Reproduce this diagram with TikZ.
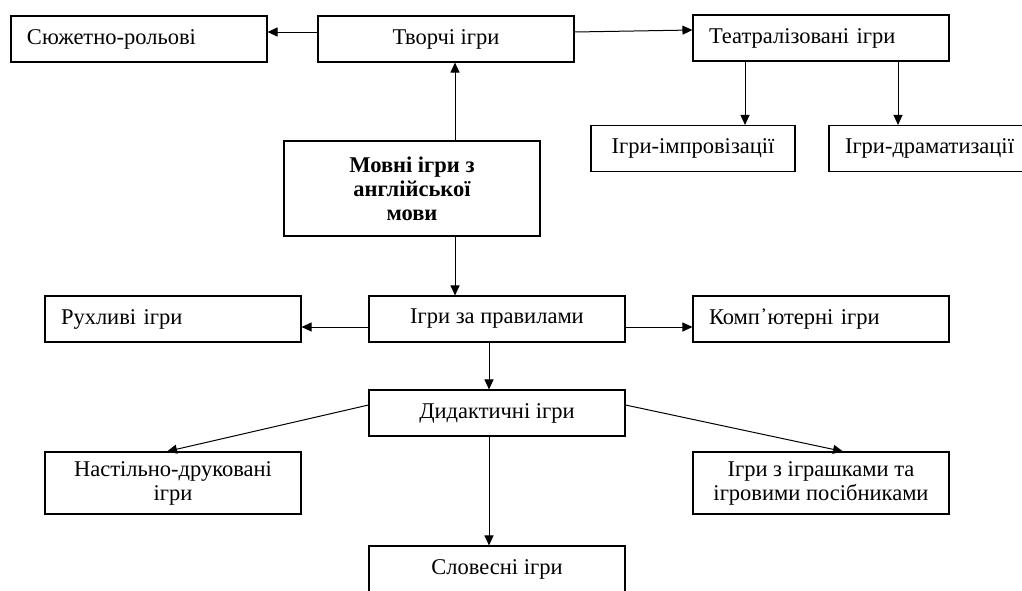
\documentclass[tikz,border=0pt]{standalone}
\usepackage{fontspec}
\setmainfont{Liberation Serif}
\usetikzlibrary{arrows.meta}

\tikzstyle{box} = [draw, line width=1.1pt, minimum height=46pt, inner sep=0pt, align=center,
                   font=\fontsize{22.5}{24}\selectfont]
\tikzstyle{lbox} = [box, align=left, inner xsep=16pt]
\tikzstyle{arr} = [line width=1pt, -{Triangle[length=10pt,width=9pt]}]

\begin{document}
\begin{tikzpicture}[x=1pt, y=-1pt]
    \useasboundingbox (0,0) rectangle (1022,590);
    % upper branch
    \node[lbox, minimum width=256pt, text width=224pt] (sr) at (139,39) {Сюжетно-рольові};
    \node[box, minimum width=256pt] (tv) at (446,39) {Творчі ігри};
    \node[lbox, minimum width=256pt, text width=224pt] (te) at (821,38) {Театралізовані ігри};
    \node[box, minimum width=204pt] (im) at (693,148.5) {Ігри-імпровізації};
    \node[lbox, minimum width=211pt, text width=179pt] (dr) at (934.5,148.5) {Ігри-драматизації};
    % root
    \node[box, minimum width=256pt, minimum height=95pt, font=\fontsize{22.5}{24}\selectfont\bfseries]
      (mv) at (412,188.5) {Мовні ігри з\\англійської\\мови};
    % lower branch
    \node[box, minimum width=256pt] (pr) at (497,319) {Ігри за правилами};
    \node[lbox, minimum width=256pt, text width=224pt] (ru) at (173,319) {Рухливі ігри};
    \node[lbox, minimum width=256pt, text width=224pt] (ko) at (821,319) {Комп᾽ютерні ігри};
    \node[box, minimum width=256pt] (dy) at (497,413) {Дидактичні ігри};
    \node[box, minimum width=256pt, minimum height=62pt] (na) at (173,483) {Настільно-друковані\\ігри};
    \node[box, minimum width=256pt, minimum height=62pt] (ig) at (821,483) {Ігри з іграшками та\\ігровими посібниками};
    \node[box, minimum width=256pt] (sl) at (497,569) {Словесні ігри};

    \draw[arr] ([yshift=7pt]tv.west) -- ([yshift=7pt]sr.east);
    \draw[arr] ([yshift=7pt]tv.east) -- ([yshift=8pt]te.west);
    \draw[arr] ([xshift=43pt]mv.north) -- ([xshift=9pt]tv.south);
    \draw[arr] ([xshift=-76pt]te.south) -- ([xshift=52pt]im.north);
    \draw[arr] ([xshift=77pt]te.south) -- ([xshift=-36.5pt]dr.north);
    \draw[arr] ([xshift=43pt]mv.south) -- ([xshift=-42pt]pr.north);
    \draw[arr] ([yshift=-8pt]pr.west) -- ([yshift=-8pt]ru.east);
    \draw[arr] ([yshift=-8pt]pr.east) -- ([yshift=-8pt]ko.west);
    \draw[arr] ([xshift=-8pt]pr.south) -- ([xshift=-8pt]dy.north);
    \draw[arr] ([yshift=8pt]dy.west) -- ([xshift=-6pt]na.north);
    \draw[arr] ([yshift=8pt]dy.east) -- ([xshift=22pt]ig.north);
    \draw[arr] ([xshift=-8pt]dy.south) -- ([xshift=-8pt]sl.north);
\end{tikzpicture}
\end{document}
